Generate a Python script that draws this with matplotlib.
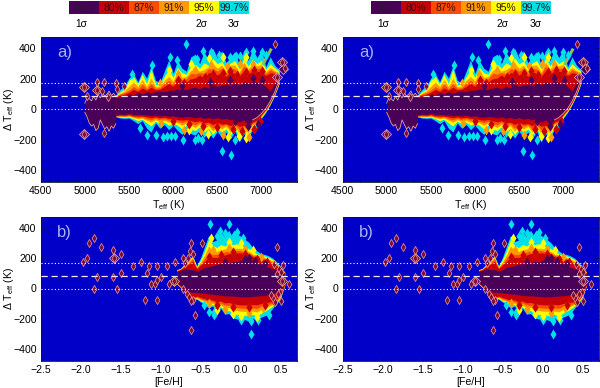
"""Teff residual density maps, four panels with a shared level key on top."""
import matplotlib
matplotlib.use("Agg")
import matplotlib.pyplot as plt

plt.rcParams["font.family"] = ["Liberation Sans", "DejaVu Sans"]
plt.rcParams["mathtext.default"] = "regular"

LEVEL_LABELS = ["68%", "80%", "87%", "91%", "95%", "99.7%"]
SIGMA_LABELS = ["1σ", "2σ", "3σ"]
SIGMA_CELLS = [0.4, 4.4, 5.5]
LEVEL_COLOURS = ["#4a0058", "#c80008", "#ff4a00", "#ff9a00", "#ffff00", "#00e0e8"]
BACKGROUND = "#0000c8"
RIM = "#f0a090"

DASHED_LEVEL = 85
DOTTED_LEVELS = [0, 170]

# panel a, Teff nodes of the dense part
TEFF = list(range(5350, 7250, 50))
TEFF_UP_997 = [95, 130, 155, 205, 235, 180, 250, 205, 285, 190, 175, 250, 325, 235, 320, 270, 250, 345, 360, 300, 375, 330, 400, 335, 385, 305, 345, 380, 290, 385, 320, 395, 340, 390, 280, 345, 290, 260]
TEFF_UP_95 = [90, 115, 135, 190, 215, 165, 230, 170, 265, 160, 165, 215, 260, 210, 275, 240, 230, 285, 295, 270, 305, 290, 335, 300, 315, 270, 305, 320, 265, 335, 285, 330, 300, 320, 262, 300, 270, 250]
TEFF_UP_91 = [88, 105, 120, 150, 180, 150, 195, 150, 205, 148, 150, 190, 215, 185, 250, 210, 215, 255, 265, 250, 260, 280, 300, 270, 290, 250, 290, 290, 245, 310, 265, 300, 285, 295, 248, 275, 255, 240]
TEFF_UP_87 = [86, 100, 110, 125, 150, 132, 165, 135, 170, 138, 142, 170, 190, 170, 225, 195, 200, 235, 235, 240, 235, 265, 270, 250, 270, 235, 270, 265, 230, 285, 250, 275, 270, 270, 235, 260, 245, 235]
TEFF_UP_80 = [85, 92, 100, 112, 130, 118, 140, 125, 145, 128, 132, 150, 170, 150, 195, 170, 180, 200, 205, 225, 205, 240, 240, 225, 245, 215, 245, 235, 215, 255, 235, 250, 250, 245, 222, 240, 235, 230]
TEFF_UP_68 = [80, 80, 85, 100, 95, 110, 100, 115, 105, 115, 120, 115, 125, 125, 135, 130, 130, 140, 145, 135, 150, 140, 165, 150, 160, 165, 155, 175, 160, 180, 170, 185, 175, 170, 150, 120, 170, 205]
TEFF_LO_997 = [-50, -58, -60, -58, -75, -95, -75, -125, -150, -90, -125, -100, -135, -105, -140, -165, -125, -160, -170, -135, -185, -150, -190, -145, -185, -150, -195, -145, -215, -160, -205, -125, -125, -60, -20, 30, 90, 165]
TEFF_LO_95 = [-48, -52, -55, -52, -62, -75, -65, -90, -110, -78, -98, -85, -105, -90, -105, -130, -105, -130, -140, -115, -150, -125, -165, -125, -150, -130, -170, -125, -185, -140, -175, -110, -105, -52, -15, 35, 95, 170]
TEFF_LO_91 = [-46, -47, -50, -46, -55, -62, -58, -72, -85, -68, -82, -72, -85, -78, -90, -105, -90, -105, -120, -98, -125, -108, -145, -108, -130, -112, -150, -110, -160, -125, -155, -100, -92, -45, -10, 40, 100, 175]
TEFF_LO_87 = [-44, -43, -45, -41, -49, -54, -50, -62, -70, -58, -70, -62, -72, -68, -80, -88, -78, -90, -102, -85, -108, -95, -125, -95, -112, -100, -132, -100, -135, -112, -138, -92, -82, -40, -5, 44, 104, 180]
TEFF_LO_80 = [-42, -38, -40, -35, -44, -45, -45, -50, -56, -50, -58, -52, -60, -60, -68, -72, -68, -75, -82, -76, -90, -85, -100, -88, -98, -95, -108, -92, -112, -105, -120, -85, -72, -35, 0, 48, 108, 185]
TEFF_LO_68 = [-38, -32, -34, -28, -34, -34, -36, -38, -42, -38, -44, -40, -46, -44, -50, -52, -48, -50, -56, -50, -60, -54, -62, -55, -65, -60, -70, -62, -85, -70, -100, -70, -55, -28, 5, 52, 112, 190]

# panel a, sparse low-temperature end, only the lowest level
TEFF_SPARSE = list(range(5000, 5375, 25))
SPARSE_UP = [40, 75, 70, 55, 85, 60, 95, 75, 110, 85, 100, 120, 90, 105, 85]
SPARSE_LO = [-20, -50, -90, -110, -100, -140, -125, -70, -100, -130, -115, -145, -110, -125, -95]

# panel a, mottled cells laid over the bands, one pair per level
TEFF_PURPLE_X = [6420, 6640, 6900, 6100, 6700, 7010, 6850, 6960]
TEFF_PURPLE_Y = [180, 190, 205, 155, -75, 190, -110, -95]
TEFF_RED_X = [6060, 6120, 6360, 6450, 6560, 6640, 6720, 6830, 6920, 7010, 6000, 6180, 6340, 6500, 6680, 6780, 6920, 6980]
TEFF_RED_Y = [190, 170, 215, 235, 240, 250, 225, 245, 255, 250, -80, -100, -110, -115, -130, -140, -130, -75]
TEFF_ORANGE_X = [5850, 6050, 6250, 6430, 6610, 6760, 6900, 5860, 6120, 6320, 6560, 6860]
TEFF_ORANGE_Y = [170, 230, 255, 290, 285, 300, 300, -90, -135, -140, -170, -180]
TEFF_YELLOW_X = [5950, 6200, 6410, 6560, 6830, 6180, 6400, 6620, 6750, 6830]
TEFF_YELLOW_Y = [260, 295, 335, 345, 345, -135, -165, -185, -175, -190]
TEFF_CYAN_X = [6146, 6550, 6652, 5803, 5700, 5928, 5977, 5625, 6109, 6248, 6324, 6524, 6426, 6248, 6270, 7002, 7055, 6830, 6760, 5530, 5760, 5970, 6040, 6340, 6640, 6710, 6900, 5880, 6020, 6280, 6700]
TEFF_CYAN_Y = [427, -275, -303, -172, -172, -178, -178, -123, -205, -205, -205, 356, 378, 328, 328, 378, 356, 375, 350, 235, 290, 345, 325, 385, 345, 350, 385, -185, -175, -190, -205]
TEFF_RIM_X = [4995, 4995, 5030, 5134, 5134, 5190, 5221, 5221, 5267, 5353, 5360, 5444, 7155, 7230, 7268, 7175]
TEFF_RIM_Y = [143, -165, 90, 125, 180, 120, 180, -155, 80, 174, 130, 152, 429, 312, 268, 213]
TEFF_BIG_X = [7230, 7250, 7180, 4995, 4995, 5134]
TEFF_BIG_Y = [310, 265, 215, 143, -165, 125]
STREAK_X = [7022, 7105]
STREAK_Y = [300, 390]

# panel b, [Fe/H] nodes of the dense part
FEH = [-0.80, -0.75, -0.70, -0.65, -0.60, -0.55, -0.50, -0.45, -0.40, -0.35, -0.30, -0.25, -0.20, -0.15, -0.10, -0.05, 0.0, 0.05, 0.10, 0.15, 0.20, 0.25, 0.30, 0.35, 0.40, 0.45, 0.50, 0.55]
FEH_UP_997 = [125, 135, 165, 195, 215, 150, 205, 280, 350, 310, 320, 375, 340, 385, 340, 360, 345, 325, 305, 270, 250, 230, 225, 215, 200, 175, 140, 110]
FEH_UP_95 = [122, 132, 160, 190, 210, 145, 190, 250, 325, 285, 270, 290, 280, 300, 290, 295, 290, 270, 265, 245, 230, 220, 215, 205, 190, 170, 135, 108]
FEH_UP_91 = [120, 130, 155, 180, 205, 140, 175, 220, 280, 250, 245, 255, 260, 270, 265, 265, 265, 255, 245, 230, 220, 210, 205, 195, 180, 165, 130, 105]
FEH_UP_87 = [118, 128, 150, 170, 195, 135, 165, 200, 235, 225, 225, 235, 240, 250, 250, 250, 250, 240, 235, 220, 210, 200, 198, 185, 170, 160, 125, 103]
FEH_UP_80 = [115, 125, 145, 160, 180, 130, 155, 180, 205, 205, 205, 215, 220, 230, 230, 235, 235, 225, 225, 210, 200, 190, 190, 175, 160, 150, 120, 100]
FEH_UP_68 = [112, 120, 130, 125, 125, 115, 125, 140, 145, 150, 160, 165, 160, 165, 180, 175, 185, 205, 210, 180, 175, 165, 150, 140, 130, 120, 110, 95]
FEH_LO_997 = [30, 5, -25, -60, -80, -70, -90, -105, -130, -115, -165, -130, -170, -165, -195, -200, -210, -205, -215, -195, -215, -190, -180, -165, -130, -100, -60, 20]
FEH_LO_95 = [32, 7, -22, -55, -75, -65, -82, -95, -115, -105, -140, -120, -150, -145, -165, -170, -178, -175, -180, -170, -185, -165, -150, -135, -115, -92, -55, 22]
FEH_LO_91 = [34, 9, -20, -50, -70, -60, -75, -85, -100, -95, -120, -108, -130, -125, -140, -145, -150, -150, -152, -148, -155, -140, -130, -118, -105, -85, -50, 24]
FEH_LO_87 = [36, 11, -18, -46, -65, -55, -68, -76, -88, -85, -105, -95, -112, -110, -122, -125, -130, -130, -132, -128, -132, -120, -112, -105, -95, -78, -46, 26]
FEH_LO_80 = [38, 13, -16, -42, -60, -50, -60, -68, -76, -75, -88, -82, -95, -92, -100, -105, -108, -108, -110, -105, -108, -100, -95, -90, -85, -70, -42, 28]
FEH_LO_68 = [40, 20, -5, -20, -25, -25, -30, -32, -36, -38, -42, -45, -48, -48, -50, -52, -55, -55, -55, -52, -50, -48, -45, -42, -35, -20, -10, 30]

# panel b, mottled cells
FEH_PURPLE_X = [0.05, 0.10, 0.18, -0.20, 0.30]
FEH_PURPLE_Y = [195, 200, 180, 175, 160]
FEH_RED_X = [-0.25, -0.10, 0.05, 0.20, 0.33, -0.40, -0.30, -0.10, 0.10, 0.30, 0.42]
FEH_RED_Y = [220, 240, 230, 195, 175, 205, -110, -120, -125, -110, -85]
FEH_ORANGE_X = [-0.35, -0.15, 0.05, 0.25, -0.40, -0.20, 0.10, 0.28]
FEH_ORANGE_Y = [255, 270, 260, 210, -95, -135, -160, -130]
FEH_YELLOW_X = [-0.37, -0.15, 0.0, 0.15, -0.30, 0.0, 0.20, -0.10]
FEH_YELLOW_Y = [330, 310, 300, 255, -145, -180, -190, -170]
FEH_CYAN_X = [-0.39, -0.15, -0.26, -0.40, -0.46, -0.33, 0.125, -0.20, -0.05, -0.30, -0.08, 0.03, -0.33, 0.0, 0.13, 0.22, 0.35]
FEH_CYAN_Y = [428, 428, 378, -155, -107, -177, -300, 365, 372, 345, 350, 335, -155, -205, -215, -210, -172]
FEH_RIM_X = [-1.975, -1.925, -1.9, -1.83, -1.75, -1.8, -1.83, -1.6, -1.59, -1.6, -1.55, -1.5, -1.5, -1.35, -1.25, -1.15, -1.175, -1.125, -1.05, -1.07, -1.05, -1.0, -1.2, -1.05, -0.925, -0.9, -0.84, -0.82, -0.725, -0.625, -0.625, -0.57, -0.6, -0.48, 0.45, 0.6, 0.51, 0.49, 0.5, 0.525, 0.475, -0.7, -0.66, -0.63, -0.6, -0.72, -0.67, -0.65, -0.62, 0.4, 0.43, 0.46, 0.38, 0.45, 0.5, 0.42]
FEH_RIM_Y = [172, 203, 302, 330, 275, 74, 0, 254, 199, 74, 0, 227, 100, 150, 177, 150, 100, 28, 150, 28, 57, 79, -74, -74, 150, 28, 50, 177, 199, 302, -271, -173, -74, 302, 275, 28, 50, -24, -85, 155, 130, 170, 200, 250, 230, -5, -35, -55, -85, -60, -90, -35, -40, 95, 110, 160]
FEH_BIG_X = [-1.59, -0.84, 0.51]
FEH_BIG_Y = [199, 50, 50]

TEFF_TICKS = [4500, 5000, 5500, 6000, 6500, 7000]
FEH_TICKS = [-2.5, -2.0, -1.5, -1.0, -0.5, 0.0, 0.5]
Y_TICKS = [-400, -200, 0, 200, 400]

FIG_W, FIG_H = 600, 388


def px_axes(fig, left, top, right, bottom):
    return fig.add_axes([left / FIG_W, 1 - bottom / FIG_H, (right - left) / FIG_W, (bottom - top) / FIG_H])


def draw_levels(ax, nodes, uppers, lowers):
    # outermost level first, each next one paints over it
    for colour, up, lo in zip(LEVEL_COLOURS[::-1], uppers, lowers, strict=True):
        ax.fill_between(nodes, lo, up, color=colour, linewidth=0, zorder=2)


def draw_cells(ax, patches, rim_x, rim_y, big_x, big_y):
    # patches run from the outer level inwards
    for colour, (xs, ys) in zip(LEVEL_COLOURS[::-1], patches, strict=True):
        ax.scatter(xs, ys, marker="d", s=26, color=colour, linewidths=0, zorder=3)
    ax.scatter(big_x, big_y, marker="D", s=26, color=LEVEL_COLOURS[0], edgecolor=RIM, linewidths=0.6, zorder=3)
    ax.scatter(rim_x, rim_y, marker="d", s=17, color="#800a38", edgecolor=RIM, linewidths=0.5, zorder=3)


def finish_axes(ax, tag, xlim, xticks, xlabel, xfmt):
    for level in DOTTED_LEVELS:
        ax.axhline(level, color="white", linestyle=(0, (1, 2)), linewidth=0.8, zorder=4)
    ax.axhline(DASHED_LEVEL, color="#ffe8f8", linestyle=(0, (5, 3)), linewidth=0.9, zorder=4)
    ax.set_facecolor(BACKGROUND)
    ax.set_xlim(*xlim)
    ax.set_ylim(-475, 475)
    ax.set_xticks(xticks)
    ax.set_xticklabels([xfmt(t) for t in xticks])
    ax.set_yticks(Y_TICKS)
    ax.set_yticklabels([str(t).replace("-", "\u2212") for t in Y_TICKS])
    ax.minorticks_on()
    ax.tick_params(which="both", direction="in", top=True, right=True, labelsize=7.6, pad=3, color="#101030")
    ax.tick_params(which="major", length=3, width=0.5)
    ax.tick_params(which="minor", length=1.5, width=0.4)
    ax.set_xlabel(xlabel, fontsize=7.6, labelpad=1.5)
    ax.set_ylabel("Δ T$_{eff}$ (K)", fontsize=7.6, va="center")
    ax.yaxis.set_label_coords(-0.122, 0.5)
    ax.text(0.065, 0.89, tag, transform=ax.transAxes, color="#a8b0f0", fontsize=12, va="center", zorder=5)
    for spine in ax.spines.values():
        spine.set_linewidth(0.6)
        spine.set_color("#101030")


def draw_key(fig, left, right):
    ax = px_axes(fig, left, 1, right, 14)
    ax.bar(range(6), [1] * 6, width=1, color=LEVEL_COLOURS)
    ax.set_xlim(-0.5, 5.5)
    ax.set_ylim(0, 1)
    ax.axis("off")
    for i, label in enumerate(LEVEL_LABELS):
        colour = "#2a1a30" if i == 0 else "#301010"
        ax.text(i, 0.47, label, ha="center", va="center", fontsize=7.4, color=colour)
    for pos, label in zip(SIGMA_CELLS, SIGMA_LABELS, strict=True):
        ax.text(pos - 0.5, -0.35, label, ha="center", va="top", fontsize=7.4, clip_on=False)


def main():
    fig = plt.figure(figsize=(FIG_W / 100, FIG_H / 100), dpi=100)

    teff_up = [TEFF_UP_997, TEFF_UP_95, TEFF_UP_91, TEFF_UP_87, TEFF_UP_80, TEFF_UP_68]
    teff_lo = [TEFF_LO_997, TEFF_LO_95, TEFF_LO_91, TEFF_LO_87, TEFF_LO_80, TEFF_LO_68]
    feh_up = [FEH_UP_997, FEH_UP_95, FEH_UP_91, FEH_UP_87, FEH_UP_80, FEH_UP_68]
    feh_lo = [FEH_LO_997, FEH_LO_95, FEH_LO_91, FEH_LO_87, FEH_LO_80, FEH_LO_68]
    teff_patches = [(TEFF_CYAN_X, TEFF_CYAN_Y), (TEFF_YELLOW_X, TEFF_YELLOW_Y), (TEFF_ORANGE_X, TEFF_ORANGE_Y),
                    (TEFF_RED_X, TEFF_RED_Y), (TEFF_RED_X, TEFF_RED_Y), (TEFF_PURPLE_X, TEFF_PURPLE_Y)]
    feh_patches = [(FEH_CYAN_X, FEH_CYAN_Y), (FEH_YELLOW_X, FEH_YELLOW_Y), (FEH_ORANGE_X, FEH_ORANGE_Y),
                   (FEH_RED_X, FEH_RED_Y), (FEH_RED_X, FEH_RED_Y), (FEH_PURPLE_X, FEH_PURPLE_Y)]

    for left, right in [(40.7, 296.7), (342.5, 598.5)]:
        ax_a = px_axes(fig, left, 37, right, 181.5)
        draw_levels(ax_a, TEFF, teff_up, teff_lo)
        ax_a.fill_between(TEFF_SPARSE, SPARSE_LO, SPARSE_UP, color=LEVEL_COLOURS[0], linewidth=0, zorder=2)
        # the thin rim only shows along the edges of the sparse ends
        ax_a.plot(TEFF_SPARSE, SPARSE_UP, color=RIM, linewidth=0.6, zorder=2.5)
        ax_a.plot(TEFF_SPARSE, SPARSE_LO, color=RIM, linewidth=0.6, zorder=2.5)
        ax_a.plot(TEFF[-7:], TEFF_LO_68[-7:], color=RIM, linewidth=0.6, zorder=2.5)
        ax_a.plot(STREAK_X, STREAK_Y, color="#88c060", linewidth=2.2, zorder=3)
        draw_cells(ax_a, teff_patches, TEFF_RIM_X, TEFF_RIM_Y, TEFF_BIG_X, TEFF_BIG_Y)
        finish_axes(ax_a, "a)", (4500, 7400), TEFF_TICKS, "T$_{eff}$ (K)", str)

        ax_b = px_axes(fig, left, 216.5, right, 360.5)
        draw_levels(ax_b, FEH, feh_up, feh_lo)
        draw_cells(ax_b, feh_patches, FEH_RIM_X, FEH_RIM_Y, FEH_BIG_X, FEH_BIG_Y)
        finish_axes(ax_b, "b)", (-2.5, 0.7), FEH_TICKS, "[Fe/H]", lambda t: f"{t:.1f}".replace("-", "\u2212"))

    draw_key(fig, 69, 249)
    draw_key(fig, 371, 551)

    fig.savefig("out.png", dpi=100)
    plt.close(fig)


if __name__ == "__main__":
    main()
